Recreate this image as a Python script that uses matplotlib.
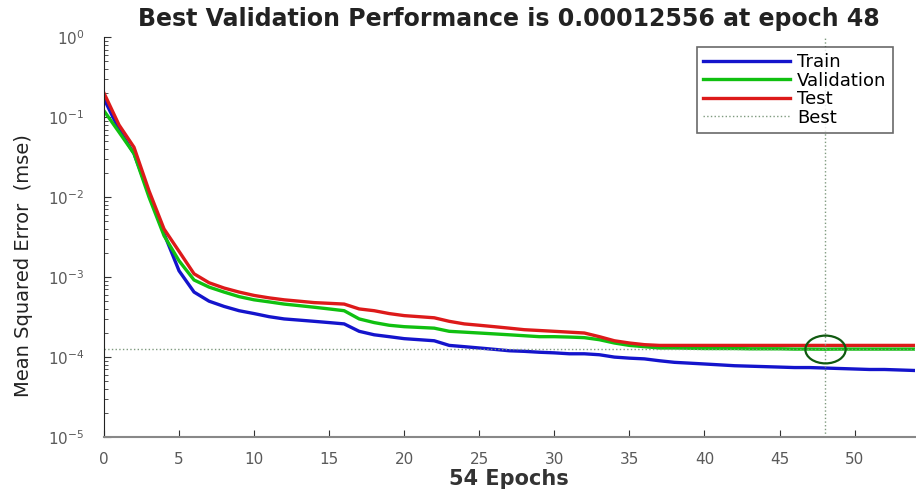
import numpy as np
import matplotlib
matplotlib.use("Agg")
import matplotlib.pyplot as plt
from matplotlib.ticker import LogLocator, FixedLocator
from matplotlib.path import Path
from matplotlib.transforms import Affine2D

plt.rcParams['font.family'] = ['DejaVu Sans']

# Values
epochs = list(range(55))
train_mse = [0.17, 0.07, 0.035, 0.011, 0.0035, 0.0012, 0.00065, 0.0005, 0.00043, 0.00038,
             0.00035, 0.00032, 0.0003, 0.00029, 0.00028, 0.00027, 0.00026, 0.00021, 0.00019, 0.00018,
             0.00017, 0.000165, 0.00016, 0.00014, 0.000135, 0.00013, 0.000125, 0.00012, 0.000118, 0.000115,
             0.000113, 0.00011, 0.00011, 0.000107, 0.0001, 0.000097, 0.000095, 0.00009, 0.000086, 0.000084,
             0.000082, 0.00008, 0.000078, 0.000077, 0.000076, 0.000075, 0.000074, 0.000074, 0.000073, 0.000072,
             0.000071, 0.00007, 0.00007, 0.000069, 0.000068]
val_mse = [0.12, 0.065, 0.035, 0.01, 0.0033, 0.0016, 0.00092, 0.00075, 0.00065, 0.00057,
           0.00052, 0.00049, 0.00046, 0.00044, 0.00042, 0.0004, 0.00038, 0.0003, 0.00027, 0.00025,
           0.00024, 0.000235, 0.00023, 0.00021, 0.000205, 0.0002, 0.000195, 0.00019, 0.000185, 0.00018,
           0.00018, 0.000178, 0.000175, 0.000165, 0.00015, 0.00014, 0.000135, 0.00013, 0.00013, 0.000129,
           0.000128, 0.000128, 0.000128, 0.000127, 0.000127, 0.000127, 0.000126, 0.000126, 0.00012556, 0.000126,
           0.000126, 0.000126, 0.000126, 0.000126, 0.000126]
test_mse = [0.2, 0.08, 0.042, 0.012, 0.004, 0.0021, 0.0011, 0.00085, 0.00073, 0.00065,
            0.00059, 0.00055, 0.00052, 0.0005, 0.00048, 0.00047, 0.00046, 0.0004, 0.00038, 0.00035,
            0.00033, 0.00032, 0.00031, 0.00028, 0.00026, 0.00025, 0.00024, 0.00023, 0.00022, 0.000215,
            0.00021, 0.000205, 0.0002, 0.00018, 0.00016, 0.00015, 0.000143, 0.00014, 0.00014, 0.00014,
            0.00014, 0.00014, 0.00014, 0.00014, 0.00014, 0.00014, 0.00014, 0.00014, 0.00014, 0.00014,
            0.00014, 0.00014, 0.00014, 0.00014, 0.00014]
best_epoch = 48
best_perf = 0.00012556
x_ticks = [0, 5, 10, 15, 20, 25, 30, 35, 40, 45, 50]

fig = plt.figure(figsize=(9.16, 4.95), dpi=100)
ax = fig.add_axes([0.1135, 0.117, 0.885, 0.808])

ax.semilogy(epochs, train_mse, color='#1414cc', lw=2.4, label='Train')
ax.semilogy(epochs, val_mse, color='#10c010', lw=2.4, label='Validation')
ax.semilogy(epochs, test_mse, color='#dd1a1a', lw=2.4, label='Test')
ax.axvline(best_epoch, color='#7f9a7f', ls=':', lw=1, label='Best')
ax.axhline(best_perf, color='#7f9a7f', ls=':', lw=1)

# MATLAB draws the best point as a wide ellipse
ellipse = Path.unit_circle().transformed(Affine2D().scale(1.45, 1.0))
ax.plot([best_epoch], [best_perf], marker=ellipse, ls='none', mfc='none', mec='#105a10', ms=29, mew=1.6)

ax.set_xlim(0, 54)
ax.set_ylim(1e-5, 1)
ax.xaxis.set_major_locator(FixedLocator(x_ticks))
ax.yaxis.set_major_locator(LogLocator(base=10, numticks=10))
ax.yaxis.set_minor_locator(LogLocator(base=10, subs=np.arange(2, 10), numticks=10))
ax.tick_params(axis='both', which='both', direction='in', colors='#333333', labelcolor='#5a5a5a', labelsize=11)
ax.tick_params(axis='both', which='major', length=5)
ax.tick_params(axis='both', which='minor', length=3)
ax.tick_params(axis='x', pad=11)
ax.tick_params(axis='y', pad=14)

for s in ['top', 'right']:
    ax.spines[s].set_visible(False)
ax.spines['left'].set_color('#222222')
ax.spines['bottom'].set_color('#888888')
ax.spines['bottom'].set_linewidth(1.5)

ax.set_title('Best Validation Performance is 0.00012556 at epoch 48',
             fontsize=17, fontweight='bold', color='#222222', pad=8)
ax.set_xlabel('54 Epochs', fontsize=15, fontweight='bold', color='#333333', labelpad=1)
ax.set_ylabel('Mean Squared Error  (mse)', fontsize=14, color='#222222')
ax.yaxis.set_label_coords(-0.088, 0.43)

leg = ax.legend(loc='upper right', bbox_to_anchor=(0.973, 0.975), fontsize=13, frameon=True,
                fancybox=False, edgecolor='#444444', handlelength=4.8, handletextpad=0.4,
                labelspacing=0.02, borderpad=0.35, borderaxespad=0)
leg.get_frame().set_linewidth(1.2)

fig.savefig('out.png', dpi=100)
